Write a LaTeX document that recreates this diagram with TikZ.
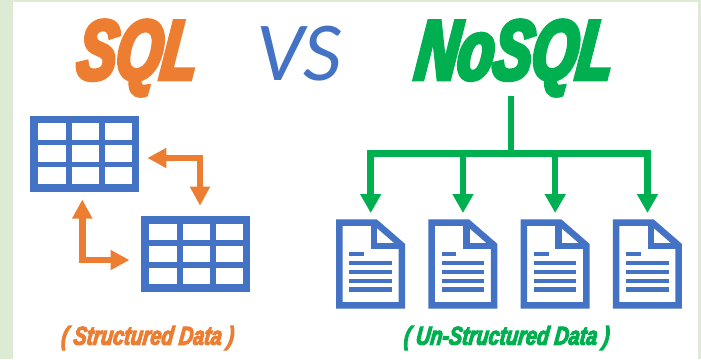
\documentclass[tikz,border=0pt]{standalone}
\usepackage{fontspec}
\usetikzlibrary{arrows.meta}
\newfontfamily\impactfont[FakeStretch=0.69,FakeBold=5.5,FakeSlant=0.12]{Liberation Sans Bold Italic}
\newfontfamily\noteimpactfont[FakeStretch=0.76,FakeBold=4,FakeSlant=0.12]{Liberation Sans Bold Italic}
\newfontfamily\vsfont{Carlito Italic}
\newlength{\du}
\setlength{\du}{1pt}
\definecolor{panelgreen}{HTML}{DDEBD5}
\definecolor{sqlorange}{HTML}{ED7D31}
\definecolor{iconblue}{HTML}{4472C4}
\definecolor{nosqlgreen}{HTML}{00B050}
\tikzset{
  titletext/.style={inner sep=0pt,font=\impactfont\fontsize{84}{84}\selectfont},
  notetext/.style={inner sep=0pt,font=\noteimpactfont\fontsize{26}{26}\selectfont},
  tablebox/.style={fill=iconblue,inner sep=0pt,minimum width=109.5\du,minimum height=76.5\du},
  docbox/.style={inner sep=0pt,minimum width=69\du,minimum height=89.4\du},
  sqlarrow/.style={draw=sqlorange,line width=6.5\du,{Triangle[width=19pt,length=19pt]}-{Triangle[width=19pt,length=19pt]}},
  nosqlline/.style={draw=nosqlgreen,line width=6.5\du},
  nosqlarrow/.style={nosqlline,-{Triangle[width=20pt,length=19pt]},shorten >=6.3pt},
  docline/.style={draw=iconblue,line width=4.4\du}
}
\begin{document}
\begin{tikzpicture}
\pgftransformyscale{-1.000000}
\useasboundingbox (0\du,0\du) rectangle (701\du,359\du);
\fill[panelgreen] (0\du,0\du) rectangle (701\du,359\du);
\fill[white] (13\du,1.5\du) rectangle (698\du,359\du);
% titles
\node[titletext,text=sqlorange] (titlesql) at (135\du,58\du) {SQL};
\node[inner sep=0pt,text=iconblue,font=\vsfont\fontsize{84}{84}\selectfont] (titlevs) at (299\du,54\du) {VS};
\node[titletext,text=nosqlgreen] (titlenosql) at (512\du,58\du) {NoSQL};
\node[notetext,text=sqlorange] (notesql) at (147\du,338\du) {( Structured Data )};
\node[notetext,text=nosqlgreen] (notenosql) at (506\du,338\du) {( Un-Structured Data )};
% tables
\foreach \tblname/\tblx/\tbly in {tbla/29.5/115.3,tblb/140.5/215.7}{
  \node[tablebox,anchor=north west] (\tblname) at (\tblx\du,\tbly\du) {};
  \foreach \cx in {8.5,42,75}
    \foreach \cy in {8,30,52}
      \fill[white] (\tblx\du+\cx\du,\tbly\du+\cy\du) rectangle ++(27.5\du,16.5\du);
}
\coordinate (elbowa) at (200\du,158\du);
\coordinate (elbowb) at (82.3\du,260\du);
\draw[sqlarrow,shorten <=8pt,shorten >=10pt] (elbowa -| tbla.east) -- (elbowa) -- (elbowa |- tblb.north);
\draw[sqlarrow,shorten <=7.3pt,shorten >=11pt] (elbowb |- tbla.south) -- (elbowb) -- (elbowb -| tblb.west);
% documents
\foreach \docname/\docx in {doca/336,docb/428.3,docc/520.5,docd/612.8}{
  \node[docbox,anchor=north west] (\docname) at (\docx\du,219.3\du) {};
  \begin{scope}[shift={(\docx\du,219.3\du)}]
    \draw[iconblue,line width=6.5\du,miter limit=10] (3.25\du,3.25\du) -- (39.5\du,3.25\du) -- (65.75\du,26\du) -- (65.75\du,86.15\du) -- (3.25\du,86.15\du) -- cycle;
    \draw[iconblue,line width=6.5\du] (38\du,3.25\du) -- (38\du,26.7\du) -- (65.75\du,26.7\du);
    \draw[docline] (13.3\du,34.6\du) -- ++(14.7\du,0\du);
    \foreach \ly in {43.7,52.5,61.6,70.3}
      \draw[docline] (13.3\du,\ly\du) -- ++(42.4\du,0\du);
  \end{scope}
}
% connectors
\coordinate (hub) at (511\du,153.5\du);
\draw[nosqlline] (hub |- titlenosql.south) -- (hub);
\foreach \docname in {doca,docb,docc,docd}
  \draw[nosqlarrow] (hub) -| (\docname.north);
\end{tikzpicture}
\end{document}
